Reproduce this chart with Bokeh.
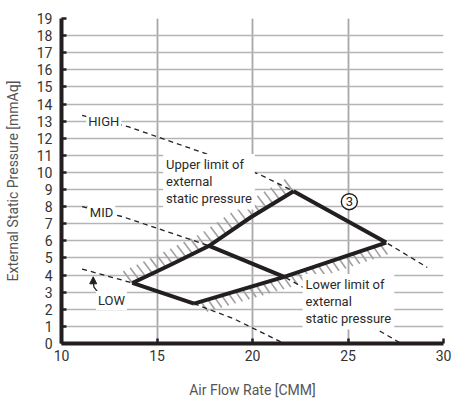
import numpy as np
from bokeh.plotting import figure
from bokeh.models import Range1d, FixedTicker, Label, Arrow, NormalHead
from bokeh.embed import file_html
from bokeh.resources import INLINE
from bokeh.core.properties import value

# ---------------- data ----------------
x_ticks = [10, 15, 20, 25, 30]
y_ticks = list(range(0, 20))

# fan curves (dashed full extent); solid part given by index range
high_x = [11.08, 13.53, 17.81, 20.43, 22.15, 27.0, 29.15]
high_y = [13.34, 12.66, 11.0, 9.85, 8.9, 5.9, 4.45]
high_solid = (4, 5)

mid_x = [11.08, 13.18, 17.73, 21.66, 24.5, 27.78]
mid_y = [8.0, 7.42, 5.71, 3.89, 2.15, 0.0]
mid_solid = (2, 3)

low_x = [11.08, 13.71, 16.94, 19.03, 21.66]
low_y = [4.35, 3.54, 2.33, 1.44, 0.0]
low_solid = (1, 2)

# limits of external static pressure
upper_x = [13.71, 15.72, 17.73, 19.91, 22.15]
upper_y = [3.54, 4.6, 5.71, 7.38, 8.9]
lower_x = [16.94, 21.66, 27.0]
lower_y = [2.33, 3.89, 5.9]

fan_names = ["HIGH", "MID", "LOW"]
curve_no = "3"

# ---------------- figure ----------------
FONT = "Roboto"
INK = "#231f20"
W, H = 451, 400
ML, MR, MT, MB = 61, 8, 18, 56

p = figure(width=W, height=H, output_backend="svg", toolbar_location=None,
           x_range=Range1d(10, 30), y_range=Range1d(0, 19),
           min_border_left=ML, min_border_right=MR, min_border_top=MT, min_border_bottom=MB)
p.outline_line_color = None
p.background_fill_color = "white"

for ax in (p.xaxis[0], p.yaxis[0]):
    ax.axis_line_width = 4
    ax.axis_line_color = INK
    ax.major_tick_in = 5
    ax.major_tick_out = 0
    ax.major_tick_line_width = 2.5
    ax.major_tick_line_color = INK
    ax.minor_tick_line_color = None
    ax.major_label_text_font = FONT
    ax.major_label_text_font_size = "14px"
    ax.major_label_text_color = "#333333"
    ax.axis_label_text_font = FONT
    ax.axis_label_text_font_size = "14px"
    ax.axis_label_text_font_style = "normal"
    ax.axis_label_text_color = "#555555"

p.xaxis.ticker = FixedTicker(ticks=x_ticks)
p.yaxis.ticker = FixedTicker(ticks=y_ticks)
p.xaxis.axis_label = "Air Flow Rate [CMM]"
p.yaxis.axis_label = "External Static Pressure [mmAq]"
p.xaxis.major_label_standoff = 6
p.xaxis.axis_label_standoff = 18
p.yaxis.major_label_standoff = 9
p.yaxis.axis_label_standoff = 13

p.xgrid.ticker = FixedTicker(ticks=x_ticks[1:-1])
p.ygrid.ticker = FixedTicker(ticks=y_ticks[1:-1])
p.xgrid.grid_line_color = "#a8a8a8"
p.xgrid.grid_line_width = 1.8
p.ygrid.grid_line_color = "#b4b4b4"
p.ygrid.grid_line_width = 1.5

# ---------------- hatched limit strips (short diagonal strokes) ----------------
sx = (W - ML - MR) / (30 - 10)     # px per x unit
sy = (H - MT - MB) / (19 - 0)      # px per y unit


def hatch_segments(cx, cy, step_px, dx_px, dy_px):
    xs = np.arange(cx[0], cx[-1] + 1e-9, step_px / sx)
    ys = np.interp(xs, cx, cy)
    return ([[x, x + dx_px / sx] for x in xs], [[y, y + dy_px / sy] for y in ys])


hx, hy = hatch_segments(upper_x, upper_y, 6.7, -9, 12)
p.multi_line(hx, hy, line_color="#a0a0a0", line_width=1.6)
hx, hy = hatch_segments(lower_x, lower_y, 6.9, 7, -10)
p.multi_line(hx[1:], hy[1:], line_color="#a0a0a0", line_width=1.6)

# ---------------- fan curves ----------------
for xs, ys in ((high_x, high_y), (mid_x, mid_y), (low_x, low_y)):
    p.line(xs, ys, line_color=INK, line_width=1.3, line_dash="5 4")

solid = dict(line_color=INK, line_width=4, line_join="miter")
for xs, ys, (a, b) in ((high_x, high_y, high_solid), (mid_x, mid_y, mid_solid), (low_x, low_y, low_solid)):
    p.line(xs[a:b + 1], ys[a:b + 1], **solid)
p.line(upper_x, upper_y, **solid)
p.line(lower_x, lower_y, **solid)

# ---------------- labels ----------------
lab = dict(text_font=FONT, text_font_size="13px", text_color="#2a2a2a",
           background_fill_color="white", text_align="left")
p.add_layout(Label(x=11.3, y=13.0, text=fan_names[0], text_baseline="middle", padding=2, **lab))
p.add_layout(Label(x=11.38, y=7.65, text=fan_names[1], text_baseline="middle", padding=2, **lab))
p.add_layout(Label(x=11.8, y=2.52, text=fan_names[2], text_baseline="middle", padding=2, **lab))
p.add_layout(Label(x=15.32, y=11.08, text="Upper limit of\nexternal\nstatic pressure",
                   text_baseline="top", text_line_height=1.15, padding=3, **lab))
p.add_layout(Label(x=22.62, y=4.07, text="Lower limit of\nexternal\nstatic pressure",
                   text_baseline="top", text_line_height=1.15, padding=3, **lab))

# LOW arrow
p.line([11.87, 11.7, 11.66], [3.05, 3.3, 3.6], line_color=INK, line_width=1.3)
p.add_layout(Arrow(end=NormalHead(size=7, fill_color=INK, line_color=INK),
                   x_start=11.66, y_start=3.55, x_end=11.66, y_end=3.9,
                   line_color=INK, line_width=1.3))

# circled curve number
p.scatter([25.07], [8.29], size=16, fill_color="white", line_color=INK, line_width=1.4)
p.text([25.07], [8.29], text=[curve_no], text_align="center", text_baseline="middle",
       text_font=value(FONT), text_font_size="13px", text_color=INK)

open("out.html", "w").write(file_html(p, INLINE))
